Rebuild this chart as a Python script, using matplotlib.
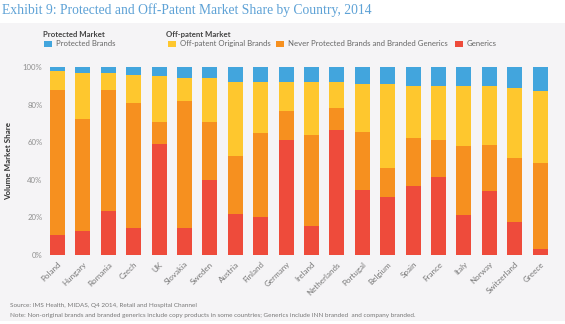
import numpy as np
import matplotlib
matplotlib.use("Agg")
import matplotlib.pyplot as plt
from matplotlib.patches import Rectangle

countries = ["Poland", "Hungary", "Romania", "Czech", "UK", "Slovakia", "Sweden",
             "Austria", "Finland", "Germany", "Ireland", "Netherlands", "Portugal",
             "Belgium", "Spain", "France", "Italy", "Norway", "Switzerland", "Greece"]
generics = [10.5, 13, 23.5, 14.5, 59, 14.5, 40, 22, 20, 61, 15.5, 66.5, 34.5, 31,
            36.5, 41.5, 21.5, 34, 17.5, 3]
never_protected = [77.5, 59.5, 64.5, 66.5, 11.5, 67.5, 30.5, 30.5, 45, 15.5, 48.5,
                   11.5, 31, 15.5, 26, 19.5, 36.5, 24.5, 34, 46]
off_patent = [10, 24.5, 9, 14.5, 24.5, 12, 23.5, 39.5, 27, 15.5, 28, 14, 25.5, 44.5,
              27.5, 29, 32, 31.5, 37.5, 38.5]
protected = [2, 3, 3, 4.5, 5, 6, 6, 8, 8, 8, 8, 8, 9, 9, 10, 10, 10, 10, 11, 12.5]
y_ticks = [0, 20, 40, 60, 80, 100]

c_blue = "#42a5dd"
c_yellow = "#fec72e"
c_orange = "#f6901f"
c_red = "#ee4b3b"
bg = "#f5f4f6"
tick_col = "#8f8f8f"

W, H = 565, 324
fig = plt.figure(figsize=(W / 100, H / 100), dpi=100)
fig.patch.set_facecolor("white")
fig.patches.append(Rectangle((0, 3 / H), 1, (H - 23 - 3) / H, transform=fig.transFigure,
                             facecolor=bg, edgecolor="none", zorder=-10))

fig.text(2 / W, 1 - 10 / H, "Exhibit 9: Protected and Off-Patent Market Share by Country, 2014",
         family="Liberation Serif", fontsize=9.8, color="#5ea2d6", va="center", ha="left")

ax = fig.add_axes([46 / W, (H - 255) / H, (558 - 46) / W, (255 - 67) / H])
ax.set_facecolor(bg)
x = np.arange(len(countries))
bw = 0.59
b1 = np.array(generics)
b2 = b1 + np.array(never_protected)
b3 = b2 + np.array(off_patent)
ax.bar(x, generics, bw, color=c_red, linewidth=0)
ax.bar(x, never_protected, bw, bottom=b1, color=c_orange, linewidth=0)
ax.bar(x, off_patent, bw, bottom=b2, color=c_yellow, linewidth=0)
ax.bar(x, protected, bw, bottom=b3, color=c_blue, linewidth=0)

ax.set_xlim(-0.45, 19.7)
ax.set_ylim(0, 100)
ax.set_yticks(y_ticks)
ax.set_yticklabels([f"{t}%" for t in y_ticks], family="Lato", fontsize=5.6, color=tick_col)
ax.set_xticks(x)
ax.set_xticklabels(countries, rotation=45, ha="right", rotation_mode="anchor",
                   family="Lato", fontsize=5.8, color="#777777")
ax.tick_params(length=0, pad=2.5)
ax.tick_params(axis="x", pad=4)
for s in ax.spines.values():
    s.set_visible(False)
ax.set_ylabel("Volume Market Share", family="Lato", fontweight="bold", fontsize=5.8,
              color="#333333", labelpad=8)

# legend
def legend_item(px, py, color, label):
    fig.patches.append(Rectangle((px / W, 1 - (py + 3.5) / H), 8 / W, 6 / H,
                                 transform=fig.transFigure, facecolor=color,
                                 edgecolor="none"))
    fig.text((px + 12) / W, 1 - py / H, label, family="Lato", fontsize=5.6,
             color="#666666", va="center", ha="left")

fig.text(43 / W, 1 - 34.5 / H, "Protected Market", family="Lato", fontweight="bold",
         fontsize=5.6, color="#444444", va="center", ha="left")
fig.text(166 / W, 1 - 34.5 / H, "Off-patent Market", family="Lato", fontweight="bold",
         fontsize=5.6, color="#444444", va="center", ha="left")
legend_item(44, 43.5, c_blue, "Protected Brands")
legend_item(168, 43.5, c_yellow, "Off-patent Original Brands")
legend_item(276, 43.5, c_orange, "Never Protected Brands and Branded Generics")
legend_item(455, 43.5, c_red, "Generics")

fig.text(10 / W, 1 - 306 / H, "Source: IMS Health, MIDAS, Q4 2014, Retail and Hospital Channel",
         family="Lato", fontsize=4.6, color="#777777", va="center", ha="left")
fig.text(10 / W, 1 - 315.5 / H,
         "Note: Non-original brands and branded generics include copy products in some countries; "
         "Generics include INN branded  and company branded.",
         family="Lato", fontsize=4.6, color="#777777", va="center", ha="left")

fig.savefig("out.png", dpi=100, facecolor=fig.get_facecolor())
